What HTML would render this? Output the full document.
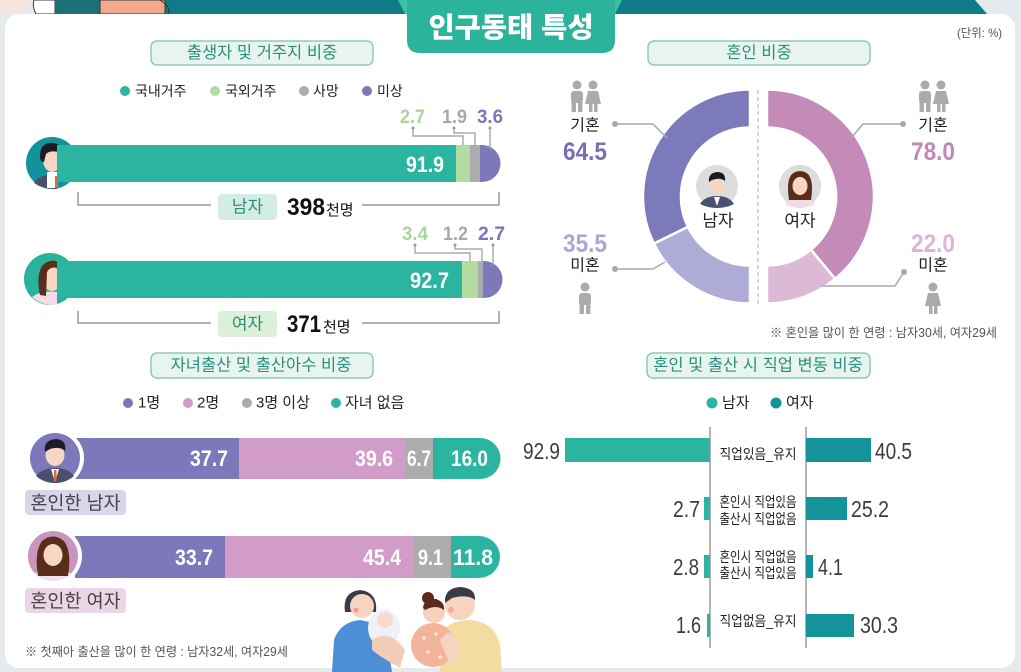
<!DOCTYPE html>
<html lang="ko">
<head>
<meta charset="utf-8">
<style>
html,body{margin:0;padding:0;background:#e4eaee;}
svg{display:block;}
text{font-family:"Liberation Sans","Noto Sans CJK KR",sans-serif;}
.kr{font-family:"Liberation Sans","Noto Sans CJK KR",sans-serif;}
</style>
</head>
<body>
<svg width="1021" height="672" viewBox="0 0 1021 672" xmlns="http://www.w3.org/2000/svg">
  <!-- background -->
  <rect x="0" y="0" width="1021" height="672" fill="#e4eaee"/>
  <!-- top band -->
  <polygon points="150,0 975,0 988,15 150,15" fill="#0f7b86"/>
  <!-- top-left cartoon fragments -->
  <path d="M0,0 L30,0 Q28,10 18,13 L0,13 Z" fill="#f6e7dc"/>
  <path d="M34,0 L55,0 L55,14 L36,14 Q32,6 34,0 Z" fill="#ffffff" stroke="#333" stroke-width="1"/>
  <rect x="55" y="0" width="45" height="14" fill="#1d6f78"/>
  <path d="M100,0 L165,0 L165,14 L100,14 Z" fill="#f3a98b" stroke="#333" stroke-width="1"/>
  <path d="M160,0 Q172,8 168,14" fill="none" stroke="#333" stroke-width="1"/>

  <!-- card -->
  <rect x="5" y="14" width="1010" height="654" rx="14" fill="#ffffff"/>

  <!-- title tab -->
  <polygon points="398,0 622,0 615,14 405,14" fill="#3cc0a6"/>
  <path d="M407,0 L615,0 L615,40 Q615,53 602,53 L420,53 Q407,53 407,40 Z" fill="#2cb39b"/>
  <text x="511" y="37" font-size="28" font-weight="900" fill="#ffffff" text-anchor="middle" textLength="165" lengthAdjust="spacingAndGlyphs">인구동태 특성</text>

  <text x="1002" y="37" font-size="12" fill="#555" text-anchor="end" textLength="45" lengthAdjust="spacingAndGlyphs">(단위: %)</text>

  <!-- ============ Section 1 ============ -->
  <rect x="151" y="41" width="222" height="24" rx="6" fill="#e8f5ef" stroke="#8dcbb3" stroke-width="1.5"/>
  <text x="262" y="53" font-size="16.5" fill="#2b8e7f" text-anchor="middle" dominant-baseline="central">출생자 및 거주지 비중</text>

  <g font-size="14" fill="#222" dominant-baseline="central">
    <circle cx="125" cy="91" r="5" fill="#2bb5a0"/><text x="135" y="91">국내거주</text>
    <circle cx="215" cy="91" r="5" fill="#b3dba2"/><text x="225" y="91">국외거주</text>
    <circle cx="304" cy="91" r="5" fill="#acacac"/><text x="313" y="91">사망</text>
    <circle cx="367" cy="91" r="5" fill="#7c78b9"/><text x="377" y="91">미상</text>
  </g>

  <!-- bar 1 male -->
  <circle cx="52" cy="163" r="26" fill="#12929b"/>
  <path d="M34,183 Q40,174 50,176 L57,176 L57,189 Q44,190 34,183 Z" fill="#4a4f6e"/>
  <rect x="47" y="172" width="10" height="16" fill="#ffffff"/>
  <rect x="55" y="176" width="3" height="12" fill="#e06a3b"/>
  <ellipse cx="52" cy="160" rx="9" ry="12" fill="#f6d7c4"/>
  <path d="M40,156 Q40,142 53,143 L58,144 L58,152 Q50,150 46,154 L44,162 Q40,162 40,156 Z" fill="#1c1c22"/>
  <path d="M57,145 L500,145 L500,145 Z" fill="none"/>
  <rect x="57" y="145" width="399" height="37" fill="#2bb5a0"/>
  <rect x="456" y="145" width="14" height="37" fill="#b3dba2"/>
  <rect x="470" y="145" width="10" height="37" fill="#acacac"/>
  <path d="M480,145 L482,145 A18.5,18.5 0 0 1 482,182 L480,182 Z" fill="#7c78b9"/>
  <text x="444" y="172" font-size="22" font-weight="bold" fill="#fff" text-anchor="end" textLength="38" lengthAdjust="spacingAndGlyphs">91.9</text>

  <g stroke="#9a9a9a" stroke-width="1.2" fill="none">
    <polyline points="413,128 413,136 463,136 463,145"/>
    <polyline points="454,128 454,133 475,133 475,145"/>
    <polyline points="490,128 490,150"/>
  </g>
  <g fill="#9a9a9a"><circle cx="413" cy="128" r="1.5"/><circle cx="454" cy="128" r="1.5"/><circle cx="490" cy="128" r="1.5"/></g>
  <g font-size="19" font-weight="bold">
    <text x="400" y="123" fill="#a9d49a" textLength="25" lengthAdjust="spacingAndGlyphs">2.7</text>
    <text x="442" y="123" fill="#a8a8a8" textLength="25" lengthAdjust="spacingAndGlyphs">1.9</text>
    <text x="477" y="123" fill="#7a76b8" textLength="26" lengthAdjust="spacingAndGlyphs">3.6</text>
  </g>

  <!-- bracket 1 -->
  <g stroke="#9a9a9a" stroke-width="1.5" fill="none">
    <polyline points="78,192 78,205 211,205"/>
    <polyline points="362,205 499,205 499,192"/>
  </g>
  <rect x="218" y="194" width="59" height="26" rx="4" fill="#d3ede5"/>
  <text x="247.5" y="207" font-size="17" fill="#2b8e7f" text-anchor="middle" dominant-baseline="central">남자</text>
  <text x="287" y="215" font-size="24" font-weight="bold" fill="#111" textLength="38" lengthAdjust="spacingAndGlyphs">398</text>
  <text x="326" y="215" font-size="15" fill="#111">천명</text>

  <!-- bar 2 female -->
  <circle cx="50" cy="279" r="26" fill="#2ab39c"/>
  <path d="M32,297 Q42,290 57,292 L57,305 Q42,306 32,297 Z" fill="#f3dbe8"/>
  <ellipse cx="52" cy="279" rx="9" ry="12" fill="#f6d7c4"/>
  <path d="M40,295 Q36,276 42,266 Q50,258 58,262 L58,268 Q50,266 47,272 L46,296 Z" fill="#5b2e1b"/>
  <rect x="57" y="261" width="405" height="37" fill="#2bb5a0"/>
  <rect x="462" y="261" width="16" height="37" fill="#b3dba2"/>
  <rect x="478" y="261" width="6" height="37" fill="#acacac"/>
  <path d="M484,261 A18.5,18.5 0 0 1 484,298 Z" fill="#7c78b9"/>
  <path d="M483,261 L484,261 L484,298 L483,298 Z" fill="#7c78b9"/>
  <text x="449" y="288" font-size="22" font-weight="bold" fill="#fff" text-anchor="end" textLength="39" lengthAdjust="spacingAndGlyphs">92.7</text>

  <g stroke="#9a9a9a" stroke-width="1.2" fill="none">
    <polyline points="415,245 415,253 470,253 470,261"/>
    <polyline points="455,245 455,249 482,249 482,261"/>
    <polyline points="493,245 493,266"/>
  </g>
  <g fill="#9a9a9a"><circle cx="415" cy="245" r="1.5"/><circle cx="455" cy="245" r="1.5"/><circle cx="493" cy="245" r="1.5"/></g>
  <g font-size="19" font-weight="bold">
    <text x="402" y="240" fill="#a9d49a" textLength="26" lengthAdjust="spacingAndGlyphs">3.4</text>
    <text x="443" y="240" fill="#a8a8a8" textLength="25" lengthAdjust="spacingAndGlyphs">1.2</text>
    <text x="478" y="240" fill="#7a76b8" textLength="27" lengthAdjust="spacingAndGlyphs">2.7</text>
  </g>

  <!-- bracket 2 -->
  <g stroke="#9a9a9a" stroke-width="1.5" fill="none">
    <polyline points="78,311 78,323 211,323"/>
    <polyline points="362,323 499,323 499,311"/>
  </g>
  <rect x="218" y="311" width="59" height="26" rx="4" fill="#dcefd8"/>
  <text x="247.5" y="324" font-size="17" fill="#2b8e7f" text-anchor="middle" dominant-baseline="central">여자</text>
  <text x="287" y="332" font-size="24" font-weight="bold" fill="#111" textLength="34" lengthAdjust="spacingAndGlyphs">371</text>
  <text x="323" y="332" font-size="15" fill="#111">천명</text>

  <!-- ============ Section 2 donut ============ -->
  <rect x="648" y="41" width="222" height="24" rx="6" fill="#e8f5ef" stroke="#8dcbb3" stroke-width="1.5"/>
  <text x="759" y="53" font-size="16.5" fill="#2b8e7f" text-anchor="middle" dominant-baseline="central">혼인 비중</text>

  <line x1="758" y1="90" x2="758" y2="304" stroke="#b0b0b0" stroke-width="1" stroke-dasharray="4 3"/>

  <g stroke="#ffffff" stroke-width="2.5" stroke-linejoin="miter">
    <path d="M750,89.5 A107,107 0 0 0 653.9,243.6 L688.0,226.9 A69,69 0 0 1 750,127.5 Z" fill="#7c7aba"/>
    <path d="M653.9,243.6 A107,107 0 0 0 750,303.5 L750,265.5 A69,69 0 0 1 688.0,226.9 Z" fill="#aeacd7"/>
    <path d="M767,89.5 A107,107 0 0 1 835.2,278.9 L811.0,249.7 A69,69 0 0 0 767,127.5 Z" fill="#c48bb9"/>
    <path d="M835.2,278.9 A107,107 0 0 1 767,303.5 L767,265.5 A69,69 0 0 0 811.0,249.7 Z" fill="#dcb9d7"/>
  </g>

  <!-- donut avatars -->
  <circle cx="717" cy="186" r="21" fill="#dcdcdc"/>
  <path d="M700,204 Q705,196 717,196 Q729,196 734,204 Q726,208 717,208 Q708,208 700,204 Z" fill="#4b5070"/>
  <path d="M714,197 L720,197 L717,206 Z" fill="#ffffff"/>
  <ellipse cx="717" cy="185" rx="7.5" ry="9" fill="#f6d6c2"/>
  <path d="M709,182 Q708,173 717,172 Q726,172 725,181 Q720,177 712,180 Z" fill="#1b1b22"/>
  <circle cx="800" cy="186" r="21" fill="#dcdcdc"/>
  <path d="M785,204 Q790,197 800,197 Q810,197 815,204 Q808,208 800,208 Q792,208 785,204 Z" fill="#f1dbe6"/>
  <path d="M789,200 Q786,180 792,174 Q800,168 808,174 Q814,181 811,200 Z" fill="#5a2d1a"/>
  <ellipse cx="800" cy="186" rx="7.5" ry="9" fill="#f6d6c2"/>
  <text x="718" y="221" font-size="17" fill="#222" text-anchor="middle" dominant-baseline="central">남자</text>
  <text x="800" y="221" font-size="17" fill="#222" text-anchor="middle" dominant-baseline="central">여자</text>

  <!-- connectors -->
  <g stroke="#a8a8a8" stroke-width="1.5" fill="none">
    <polyline points="615,124 653,124 667,138"/>
    <polyline points="615,269 653,269 665,262"/>
    <polyline points="903,124 863,124 852,137"/>
    <polyline points="904,272 895,286 822,286"/>
  </g>
  <g fill="#a8a8a8">
    <circle cx="615" cy="124" r="3"/><circle cx="615" cy="269" r="3"/>
    <circle cx="903" cy="124" r="3"/><circle cx="904" cy="272" r="3"/>
  </g>

  <!-- person icons -->
  <g fill="#ababab">
    <!-- left couple -->
    <circle cx="577" cy="85" r="4.5"/><rect x="571" y="91" width="12" height="12" rx="3"/><rect x="571.5" y="100" width="4.5" height="12"/><rect x="578" y="100" width="4.5" height="12"/>
    <circle cx="593" cy="85" r="4.5"/><path d="M588,91 L598,91 L601,104 L585,104 Z"/><rect x="589" y="103" width="3.5" height="9"/><rect x="594" y="103" width="3.5" height="9"/>
    <!-- right couple -->
    <circle cx="925" cy="85" r="4.5"/><rect x="919" y="91" width="12" height="12" rx="3"/><rect x="919.5" y="100" width="4.5" height="12"/><rect x="926" y="100" width="4.5" height="12"/>
    <circle cx="941" cy="85" r="4.5"/><path d="M936,91 L946,91 L949,104 L933,104 Z"/><rect x="937" y="103" width="3.5" height="9"/><rect x="942" y="103" width="3.5" height="9"/>
    <!-- left single male -->
    <circle cx="585" cy="287" r="4.5"/><rect x="579" y="293" width="12" height="12" rx="3"/><rect x="579.5" y="302" width="4.5" height="12"/><rect x="586" y="302" width="4.5" height="12"/>
    <!-- right single female -->
    <circle cx="933" cy="287" r="4.5"/><path d="M928,293 L938,293 L941,306 L925,306 Z"/><rect x="929" y="305" width="3.5" height="9"/><rect x="934" y="305" width="3.5" height="9"/>
  </g>

  <!-- donut labels -->
  <text x="585" y="126" font-size="16" fill="#222" text-anchor="middle" dominant-baseline="central">기혼</text>
  <text x="585" y="160" font-size="25" font-weight="bold" fill="#7671b5" text-anchor="middle" textLength="44" lengthAdjust="spacingAndGlyphs">64.5</text>
  <text x="585" y="252" font-size="25" font-weight="bold" fill="#aaa7d4" text-anchor="middle" textLength="44" lengthAdjust="spacingAndGlyphs">35.5</text>
  <text x="585" y="266" font-size="16" fill="#222" text-anchor="middle" dominant-baseline="central">미혼</text>
  <text x="933" y="126" font-size="16" fill="#222" text-anchor="middle" dominant-baseline="central">기혼</text>
  <text x="933" y="160" font-size="25" font-weight="bold" fill="#c287b6" text-anchor="middle" textLength="44" lengthAdjust="spacingAndGlyphs">78.0</text>
  <text x="933" y="252" font-size="25" font-weight="bold" fill="#dcb5d5" text-anchor="middle" textLength="44" lengthAdjust="spacingAndGlyphs">22.0</text>
  <text x="933" y="266" font-size="16" fill="#222" text-anchor="middle" dominant-baseline="central">미혼</text>

  <text x="997" y="333" font-size="12.5" fill="#555" text-anchor="end" dominant-baseline="central" textLength="227" lengthAdjust="spacingAndGlyphs">※ 혼인을 많이 한 연령 : 남자30세, 여자29세</text>

  <!-- ============ Section 3 ============ -->
  <rect x="151" y="353" width="222" height="25" rx="6" fill="#e8f5ef" stroke="#8dcbb3" stroke-width="1.5"/>
  <text x="261" y="365.5" font-size="16.5" fill="#2b8e7f" text-anchor="middle" dominant-baseline="central">자녀출산 및 출산아수 비중</text>

  <g font-size="15" fill="#222" dominant-baseline="central">
    <circle cx="128" cy="403" r="5" fill="#7c78b9"/><text x="138" y="403">1명</text>
    <circle cx="188" cy="403" r="5" fill="#d29cc8"/><text x="197" y="403">2명</text>
    <circle cx="247" cy="403" r="5" fill="#acacac"/><text x="256" y="403">3명 이상</text>
    <circle cx="336" cy="403" r="5" fill="#2bb5a0"/><text x="345" y="403">자녀 없음</text>
  </g>

  <!-- bar 3 -->
  <rect x="75" y="438" width="164" height="41" fill="#7c78b9"/>
  <rect x="239" y="438" width="166" height="41" fill="#d29cc8"/>
  <rect x="405" y="438" width="28" height="41" fill="#acacac"/>
  <path d="M433,438 L480,438 A20.5,20.5 0 0 1 480,479 L433,479 Z" fill="#2bb5a0"/>
  <circle cx="55" cy="458" r="29" fill="#ffffff"/>
  <circle cx="55" cy="458" r="25" fill="#7c78b9"/>
  <path d="M36,476 Q42,468 55,468 Q68,468 74,476 Q66,483 55,483 Q44,483 36,476 Z" fill="#4a4f6e"/>
  <path d="M51,469 L59,469 L55,482 Z" fill="#fff"/>
  <rect x="54" y="470" width="2.5" height="11" fill="#e06a3b"/>
  <ellipse cx="55" cy="455" rx="9.5" ry="11" fill="#f6d7c4"/>
  <path d="M45,452 Q43,440 56,439 Q67,440 65,451 Q60,446 50,449 Z" fill="#1c1c22"/>
  <g font-size="22" font-weight="bold" fill="#fff">
    <text x="228" y="466" text-anchor="end" textLength="38" lengthAdjust="spacingAndGlyphs">37.7</text>
    <text x="393" y="466" text-anchor="end" textLength="38" lengthAdjust="spacingAndGlyphs">39.6</text>
    <text x="407" y="466" textLength="24" lengthAdjust="spacingAndGlyphs">6.7</text>
    <text x="451" y="466" textLength="37" lengthAdjust="spacingAndGlyphs">16.0</text>
  </g>
  <rect x="25" y="490" width="101" height="25" rx="4" fill="#d9d5eb"/>
  <text x="75.5" y="503" font-size="18.5" fill="#444" text-anchor="middle" dominant-baseline="central">혼인한 남자</text>

  <!-- bar 4 -->
  <rect x="75" y="536" width="150" height="42" fill="#7c78b9"/>
  <rect x="225" y="536" width="188" height="42" fill="#d29cc8"/>
  <rect x="413" y="536" width="38" height="42" fill="#acacac"/>
  <path d="M451,536 L479,536 A21,21 0 0 1 479,578 L451,578 Z" fill="#2bb5a0"/>
  <circle cx="53" cy="556" r="29" fill="#ffffff"/>
  <circle cx="53" cy="556" r="25" fill="#c995be"/>
  <path d="M35,574 Q42,567 53,567 Q64,567 71,574 Q63,581 53,581 Q43,581 35,574 Z" fill="#f4e0ea"/>
  <path d="M38,576 Q34,552 42,541 Q53,532 64,541 Q72,552 68,576 Z" fill="#5a2d1a"/>
  <ellipse cx="53" cy="555" rx="9.5" ry="11" fill="#f6d7c4"/>
  <g font-size="22" font-weight="bold" fill="#fff">
    <text x="213" y="565" text-anchor="end" textLength="38" lengthAdjust="spacingAndGlyphs">33.7</text>
    <text x="401" y="565" text-anchor="end" textLength="38" lengthAdjust="spacingAndGlyphs">45.4</text>
    <text x="418" y="565" textLength="25" lengthAdjust="spacingAndGlyphs">9.1</text>
    <text x="453" y="565" textLength="40" lengthAdjust="spacingAndGlyphs">11.8</text>
  </g>
  <rect x="25" y="588" width="101" height="25" rx="4" fill="#ecd6e6"/>
  <text x="75.5" y="601" font-size="18.5" fill="#444" text-anchor="middle" dominant-baseline="central">혼인한 여자</text>

  <text x="25" y="652" font-size="12.5" fill="#555" dominant-baseline="central" textLength="263" lengthAdjust="spacingAndGlyphs">※ 첫째아 출산을 많이 한 연령 : 남자32세, 여자29세</text>

  <!-- family illustration -->
  <g>
    <!-- man (back right) -->
    <path d="M440,672 L442,632 Q450,620 470,620 Q495,622 500,645 L502,672 Z" fill="#f3dc9f"/>
    <circle cx="460" cy="605" r="15" fill="#f7d4bf"/>
    <path d="M445,603 Q444,588 460,587 Q476,588 475,600 Q468,594 452,598 Z" fill="#3b3b44"/>
    <circle cx="451" cy="610" r="3" fill="#f29a9a" opacity="0.7"/>
    <!-- woman (left) -->
    <path d="M332,672 L334,640 Q340,622 360,620 L385,625 L392,672 Z" fill="#4d8fd6"/>
    <path d="M345,612 Q342,592 360,590 Q378,592 376,612 Z" fill="#3a3a4a"/>
    <circle cx="362" cy="606" r="12" fill="#f7d4bf"/>
    <circle cx="356" cy="610" r="2.5" fill="#f29a9a"/>
    <!-- baby -->
    <ellipse cx="384" cy="628" rx="16" ry="19" fill="#eef2f8"/>
    <circle cx="385" cy="620" r="8" fill="#f7dccb"/>
    <path d="M372,640 Q390,628 405,650 L400,668 Q385,660 372,650 Z" fill="#f4cdb9"/>
    <!-- girl -->
    <circle cx="428" cy="598" r="6" fill="#5a2a1e"/>
    <circle cx="434" cy="612" r="11" fill="#f7d0bb"/>
    <path d="M423,608 Q424,598 436,599 Q445,602 444,610 Q436,604 425,610 Z" fill="#5a2a1e"/>
    <ellipse cx="433" cy="645" rx="22" ry="22" fill="#f2b49b"/>
    <g fill="#fbe6d8"><circle cx="424" cy="638" r="1.8"/><circle cx="436" cy="634" r="1.8"/><circle cx="444" cy="645" r="1.8"/><circle cx="428" cy="652" r="1.8"/><circle cx="440" cy="657" r="1.8"/></g>
    <path d="M448,632 Q462,640 458,660 L450,665 Q444,650 440,640 Z" fill="#f7d4bf"/>
  </g>

  <!-- ============ Section 4 ============ -->
  <rect x="647" y="353" width="223" height="25" rx="6" fill="#e8f5ef" stroke="#8dcbb3" stroke-width="1.5"/>
  <text x="758" y="365.5" font-size="16.5" fill="#2b8e7f" text-anchor="middle" dominant-baseline="central">혼인 및 출산 시 직업 변동 비중</text>

  <g font-size="15" fill="#222" dominant-baseline="central">
    <circle cx="712" cy="403" r="5.5" fill="#2bb5a0"/><text x="722" y="403">남자</text>
    <circle cx="776" cy="403" r="5.5" fill="#14939b"/><text x="786" y="403">여자</text>
  </g>

  <line x1="710" y1="427" x2="710" y2="648" stroke="#9a9a9a" stroke-width="1.5"/>
  <line x1="806" y1="427" x2="806" y2="648" stroke="#9a9a9a" stroke-width="1.5"/>

  <!-- men bars -->
  <g fill="#2bb5a0">
    <rect x="565" y="438" width="145" height="24"/>
    <rect x="704" y="497" width="6" height="23"/>
    <rect x="704" y="555" width="6" height="23"/>
    <rect x="707" y="614" width="3" height="23"/>
  </g>
  <!-- women bars -->
  <g fill="#14939b">
    <rect x="806" y="438" width="65" height="24"/>
    <rect x="806" y="497" width="41" height="23"/>
    <rect x="806" y="555" width="7" height="23"/>
    <rect x="806" y="614" width="48" height="23"/>
  </g>

  <g font-size="23" fill="#3c3c3c">
    <text x="560" y="459" text-anchor="end" textLength="37" lengthAdjust="spacingAndGlyphs">92.9</text>
    <text x="875" y="459" textLength="37" lengthAdjust="spacingAndGlyphs">40.5</text>
    <text x="700" y="517" text-anchor="end" textLength="27" lengthAdjust="spacingAndGlyphs">2.7</text>
    <text x="851" y="517" textLength="38" lengthAdjust="spacingAndGlyphs">25.2</text>
    <text x="699" y="575" text-anchor="end" textLength="26" lengthAdjust="spacingAndGlyphs">2.8</text>
    <text x="818" y="575" textLength="25" lengthAdjust="spacingAndGlyphs">4.1</text>
    <text x="701" y="633" text-anchor="end" textLength="25" lengthAdjust="spacingAndGlyphs">1.6</text>
    <text x="860" y="633" textLength="38" lengthAdjust="spacingAndGlyphs">30.3</text>
  </g>

  <g font-size="14" fill="#222" text-anchor="middle" dominant-baseline="central">
    <text x="758" y="454" textLength="77" lengthAdjust="spacingAndGlyphs">직업있음_유지</text>
    <text x="758" y="502" textLength="77" lengthAdjust="spacingAndGlyphs">혼인시 직업있음</text>
    <text x="758" y="519" textLength="77" lengthAdjust="spacingAndGlyphs">출산시 직업없음</text>
    <text x="758" y="557" textLength="77" lengthAdjust="spacingAndGlyphs">혼인시 직업없음</text>
    <text x="758" y="573" textLength="77" lengthAdjust="spacingAndGlyphs">출산시 직업있음</text>
    <text x="758" y="621" textLength="77" lengthAdjust="spacingAndGlyphs">직업없음_유지</text>
  </g>
</svg>
</body>
</html>
